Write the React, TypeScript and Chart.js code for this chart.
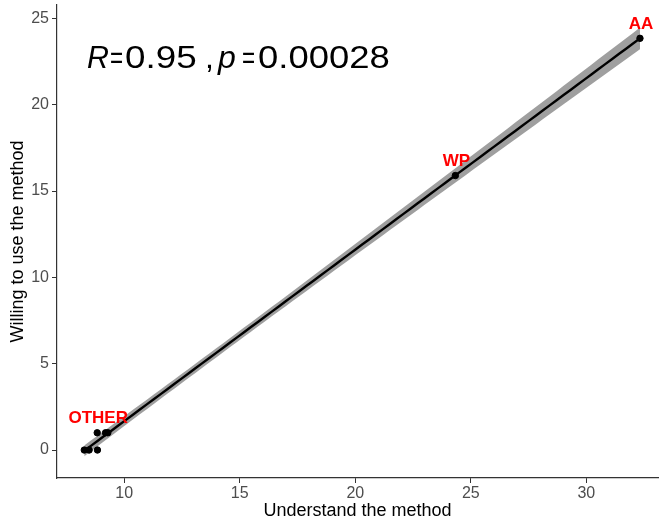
import React, { useEffect, useRef } from 'react';
import { Chart, registerables } from 'chart.js';
Chart.register(...registerables);

const understand = [8.27, 8.48, 8.84, 8.83, 9.19, 9.29, 24.33, 32.32];
const willing = [0, 0, 0, 1, 1, 1, 15.9, 23.85];
const pointLabels = ['', '', '', 'OTHER', '', '', 'WP', 'AA'];
const xTicks = [10, 15, 20, 25, 30];
const yTicks = [0, 5, 10, 15, 20, 25];
const corrR = '0.95';
const corrP = '0.00028';
const xTitle = 'Understand the method';
const yTitle = 'Willing to use the method';

const FONT = "'Liberation Sans', Arial, Helvetica, sans-serif";

function fitLine(xs: number[], ys: number[]) {
  const n = xs.length;
  const mx = xs.reduce((a, b) => a + b, 0) / n;
  const my = ys.reduce((a, b) => a + b, 0) / n;
  let sxx = 0, sxy = 0;
  for (let i = 0; i < n; i++) {
    sxx += (xs[i] - mx) ** 2;
    sxy += (xs[i] - mx) * (ys[i] - my);
  }
  const b = sxy / sxx;
  const a = my - b * mx;
  let sse = 0;
  for (let i = 0; i < n; i++) sse += (ys[i] - (a + b * xs[i])) ** 2;
  const se = Math.sqrt(sse / (n - 2));
  const t = 2.4469; // t(0.975, df = 6)
  const lo = Math.min(...xs), hi = Math.max(...xs);
  const steps = 80;
  const fit: { x: number; y: number }[] = [];
  const upper: { x: number; y: number }[] = [];
  const lower: { x: number; y: number }[] = [];
  for (let k = 0; k <= steps; k++) {
    const x = lo + ((hi - lo) * k) / steps;
    const yhat = a + b * x;
    const w = t * se * Math.sqrt(1 / n + (x - mx) ** 2 / sxx);
    fit.push({ x, y: yhat });
    upper.push({ x, y: yhat + w });
    lower.push({ x, y: yhat - w });
  }
  return { fit, upper, lower };
}

export default function App() {
  const ref = useRef<HTMLCanvasElement>(null);
  useEffect(() => {
    if (!ref.current) return;
    const { fit, upper, lower } = fitLine(understand, willing);

    const labelPlugin = {
      id: 'labels',
      afterDatasetsDraw(chart: any) {
        const ctx = chart.ctx;
        const xs = chart.scales.x, ys = chart.scales.y;
        ctx.save();
        ctx.fillStyle = '#ff0000';
        ctx.font = `bold 17px ${FONT}`;
        ctx.textAlign = 'center';
        ctx.textBaseline = 'middle';
        pointLabels.forEach((lab, i) => {
          if (!lab) return;
          const px = xs.getPixelForValue(understand[i]);
          const py = ys.getPixelForValue(willing[i]);
          ctx.fillText(lab, px + 1, py - 14);
        });
        // correlation annotation (R and p in italics)
        const ca = chart.chartArea;
        const x0 = ca.left + 30;
        const y = ca.top + 63;
        ctx.fillStyle = '#000';
        ctx.textAlign = 'left';
        ctx.textBaseline = 'alphabetic';
        const parts: [string, boolean, number, number][] = [
          ['R', true, 0, 0.95],
          ['=', false, 23, 0.7],
          [corrR, false, 38, 1.15],
          [',', false, 118, 1.0],
          ['p', true, 131, 1.0],
          ['=', false, 155, 0.7],
          [corrP, false, 171, 1.14],
        ];
        parts.forEach(([txt, it, off, sx]) => {
          ctx.save();
          ctx.font = `${it ? 'italic ' : ''}32px ${FONT}`;
          ctx.translate(x0 + off, y);
          ctx.scale(sx, 1);
          ctx.fillText(txt, 0, 0);
          ctx.restore();
        });
        ctx.restore();
      },
    };

    const zeroPad = (s: any) => {
      s.paddingTop = 0;
      s.paddingBottom = 0;
      s.paddingLeft = 0;
      s.paddingRight = 0;
    };

    const chart = new Chart(ref.current, {
      type: 'scatter',
      data: {
        datasets: [
          {
            type: 'line',
            data: upper,
            borderWidth: 0,
            pointRadius: 0,
            backgroundColor: '#9f9f9f',
            fill: '+1',
            order: 3,
          } as any,
          {
            type: 'line',
            data: lower,
            borderWidth: 0,
            pointRadius: 0,
            fill: false,
            order: 3,
          } as any,
          {
            type: 'line',
            data: fit,
            borderColor: '#000',
            borderWidth: 2.4,
            pointRadius: 0,
            fill: false,
            order: 2,
          } as any,
          {
            type: 'scatter',
            data: understand.map((x, i) => ({ x, y: willing[i] })),
            backgroundColor: '#000',
            borderColor: '#000',
            pointRadius: 3.2,
            order: 1,
          },
        ],
      },
      options: {
        animation: false,
        responsive: false,
        maintainAspectRatio: false,
        layout: { padding: { top: 5, right: 1, left: 0, bottom: 0 } },
        plugins: { legend: { display: false }, tooltip: { enabled: false } },
        scales: {
          x: {
            type: 'linear',
            min: 7.09,
            max: 33.1,
            afterBuildTicks: (s: any) => {
              s.ticks = xTicks.map((v) => ({ value: v }));
            },
            afterFit: (s: any) => {
              s.height = 45;
              zeroPad(s);
            },
            grid: { display: true, drawOnChartArea: false, drawTicks: true, tickLength: 5, color: '#333', lineWidth: 1 },
            border: { display: true, color: '#333', width: 1.2 },
            ticks: { font: { size: 16, family: FONT }, color: '#4d4d4d', padding: 1, maxRotation: 0, autoSkip: false },
            title: { display: true, text: xTitle, font: { size: 18, family: FONT }, color: '#000', padding: { top: 0, bottom: 1 } },
          },
          y: {
            type: 'linear',
            min: -1.62,
            max: 25.78,
            afterBuildTicks: (s: any) => {
              s.ticks = yTicks.map((v) => ({ value: v }));
            },
            afterFit: (s: any) => {
              s.width = 57;
              zeroPad(s);
            },
            grid: { display: true, drawOnChartArea: false, drawTicks: true, tickLength: 5, color: '#333', lineWidth: 1 },
            border: { display: true, color: '#333', width: 1.2 },
            ticks: { font: { size: 16, family: FONT }, color: '#4d4d4d', padding: 3, autoSkip: false },
            title: { display: true, text: yTitle, font: { size: 18, family: FONT }, color: '#000', padding: { top: 7, bottom: 0 } },
          },
        },
      },
      plugins: [labelPlugin],
    });
    return () => chart.destroy();
  }, []);
  return (
    <div style={{ position: 'absolute', left: 0, top: 0, width: 663, height: 523 }}>
      <canvas ref={ref} width={663} height={523} style={{ display: 'block' }} />
    </div>
  );
}
